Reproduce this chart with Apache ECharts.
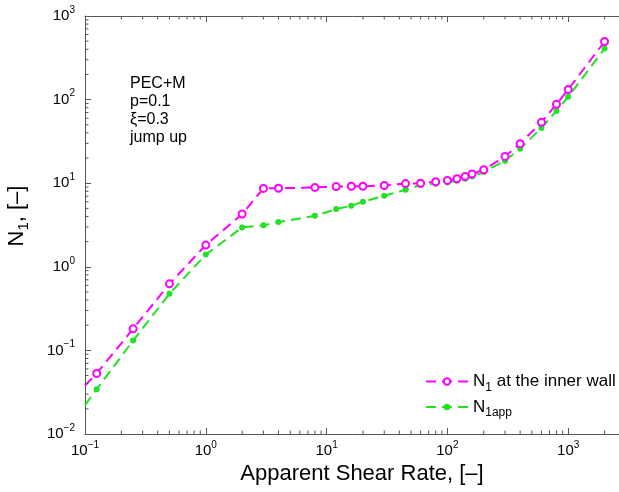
<!DOCTYPE html>
<html><head><meta charset="utf-8">
<script src="https://cdn.jsdelivr.net/npm/echarts@6/dist/echarts.min.js"></script>
<style>html,body{margin:0;padding:0;background:#fff}#c{width:619px;height:492px}</style>
</head><body><div id="c"></div>
<script>
// ---- data ----
const shearRate = [0.125, 0.25, 0.5, 1, 2, 3, 4, 8, 12, 16, 20, 30, 45, 60, 80, 100, 120, 140, 160, 200, 300, 400, 600, 800, 1000, 2000];
const n1Wall   = [0.053, 0.181, 0.625, 1.82, 4.28, 8.66, 8.7, 8.9, 9.1, 9.2, 9.2, 9.4, 9.9, 10.0, 10.4, 10.8, 11.3, 12.0, 12.9, 14.5, 20.9, 29.7, 53.5, 88, 132, 495];
const n1App    = [0.0343, 0.131, 0.475, 1.40, 2.96, 3.13, 3.43, 4.08, 4.9, 5.37, 6.0, 7.08, 8.35, 9.5, 9.86, 10.2, 10.7, 11.3, 12.0, 13.6, 18.6, 25.9, 45.8, 73.3, 108, 408];
// dashed lines continue to the left axis (no marker there)
const leadShear = 0.1;
const leadWall = 0.038;
const leadApp = 0.0222;
const xDecades = [-1, 0, 1, 2, 3];
const yDecades = [-2, -1, 0, 1, 2];
const minorMult = [2, 3, 4, 5, 6, 7, 8, 9];
const annotation = ['PEC+M', 'p=0.1', 'ξ=0.3', 'jump up'];
const seriesNames = ['N1 at the inner wall', 'N1app'];

const FONT = '"Liberation Sans", Arial, Helvetica, sans-serif';
const AXIS_COLOR = '#555';
const MAGENTA = '#ff00ff';
const GREEN = '#22e022';

const X_MIN = 0.1, X_MAX = 10000, Y_MIN = 0.01, Y_MAX = 1000;

function buildSeries(lead, vals) {
  const d = [{ value: [leadShear, lead], symbol: 'none' }];
  for (let i = 0; i < shearRate.length; i++) d.push([shearRate[i], vals[i]]);
  return d;
}

const minorTicks = [];
xDecades.forEach(e => minorMult.forEach(m => minorTicks.push([m * Math.pow(10, e), Y_MIN, 0])));
yDecades.forEach(e => minorMult.forEach(m => minorTicks.push([X_MIN, m * Math.pow(10, e), 1])));

function expLabel(v) {
  const e = Math.round(Math.log10(v));
  return '{b|10}{s|' + (e < 0 ? '\u2212' + (-e) : e) + '}';
}
const labelRich = {
  b: { fontSize: 15, lineHeight: 22, fontFamily: FONT, color: '#000' },
  s: { fontSize: 10, lineHeight: 10, verticalAlign: 'top', fontFamily: FONT, color: '#000' }
};

const chart = echarts.init(document.getElementById('c'), null, { renderer: 'canvas' });
chart.setOption({
  animation: false,
  backgroundColor: '#fff',
  grid: { left: 85, top: 16, width: 604, height: 418, containLabel: false, outerBoundsMode: 'none' },
  xAxis: [{
    type: 'log', logBase: 10, min: X_MIN, max: X_MAX, position: 'bottom',
    axisLine: { show: true, lineStyle: { color: AXIS_COLOR, width: 1 } },
    axisTick: { show: true, inside: true, length: 6, lineStyle: { color: AXIS_COLOR } },
    axisLabel: { margin: 6, formatter: expLabel, rich: labelRich },
    splitLine: { show: false }
  }, {
    type: 'log', logBase: 10, min: X_MIN, max: X_MAX, position: 'top',
    axisLine: { show: true, onZero: false, lineStyle: { color: AXIS_COLOR, width: 1 } },
    axisTick: { show: true, inside: true, length: 6, lineStyle: { color: AXIS_COLOR } },
    axisLabel: { show: false },
    splitLine: { show: false }
  }],
  yAxis: [{
    type: 'log', logBase: 10, min: Y_MIN, max: Y_MAX,
    axisLine: { show: true, lineStyle: { color: AXIS_COLOR, width: 1 } },
    axisTick: { show: true, inside: true, length: 6, lineStyle: { color: AXIS_COLOR } },
    axisLabel: { margin: 10, formatter: expLabel, rich: labelRich },
    splitLine: { show: false }
  }],
  legend: {
    orient: 'vertical', left: 420, top: 368, itemWidth: 42, itemHeight: 8, itemGap: 5,
    data: seriesNames,
    formatter: function (name) {
      return name === seriesNames[0] ? '{n|N}{s|1}{n| at the inner wall}' : '{n|N}{s|1app}';
    },
    textStyle: {
      rich: {
        n: { fontSize: 17, lineHeight: 24, fontFamily: FONT, color: '#000' },
        s: { fontSize: 12, lineHeight: 10, verticalAlign: 'bottom', fontFamily: FONT, color: '#000' }
      }
    }
  },
  graphic: [
    { type: 'text', x: 362, y: 474, style: { text: 'Apparent Shear Rate, [–]', font: '22px ' + FONT, fill: '#000', align: 'center', verticalAlign: 'middle' } },
    { type: 'text', x: 17, y: 216, rotation: Math.PI / 2, style: {
        text: '{n|N}{s|1}{n|, [–]}', align: 'center', verticalAlign: 'middle',
        rich: {
          n: { fontSize: 22, lineHeight: 28, fontFamily: FONT, fill: '#000' },
          s: { fontSize: 15, lineHeight: 12, verticalAlign: 'bottom', fontFamily: FONT, fill: '#000' }
        } } },
    { type: 'text', x: 130, y: 75, style: { text: annotation.join('\n'), font: '16px ' + FONT, lineHeight: 18, fill: '#000', align: 'left', verticalAlign: 'top' } }
  ],
  series: [
    {
      name: seriesNames[1], type: 'line', data: buildSeries(leadApp, n1App),
      symbol: 'circle', symbolSize: 6, showAllSymbol: true,
      itemStyle: { color: GREEN },
      lineStyle: { color: GREEN, width: 2, type: [10, 6] },
      z: 3
    },
    {
      name: seriesNames[0], type: 'line', data: buildSeries(leadWall, n1Wall),
      symbol: 'emptyCircle', symbolSize: 7, showAllSymbol: true,
      itemStyle: { color: MAGENTA, borderWidth: 1.3 },
      lineStyle: { color: MAGENTA, width: 2, type: [10, 6] },
      z: 4
    },
    {
      type: 'custom', data: minorTicks, clip: false, silent: true, z: 5,
      renderItem: function (params, api) {
        const v0 = api.value(0), v1 = api.value(1), kind = api.value(2);
        const stroke = { stroke: AXIS_COLOR, lineWidth: 1 };
        if (kind === 0) {
          const b = api.coord([v0, Y_MIN]);
          const t = api.coord([v0, Y_MAX]);
          return { type: 'group', children: [
            { type: 'line', shape: { x1: b[0], y1: b[1], x2: b[0], y2: b[1] - 3.5 }, style: stroke },
            { type: 'line', shape: { x1: t[0], y1: t[1], x2: t[0], y2: t[1] + 3.5 }, style: stroke }
          ] };
        }
        const p = api.coord([X_MIN, v1]);
        return { type: 'line', shape: { x1: p[0], y1: p[1], x2: p[0] + 3.5, y2: p[1] }, style: stroke };
      }
    }
  ]
});
</script></body></html>
